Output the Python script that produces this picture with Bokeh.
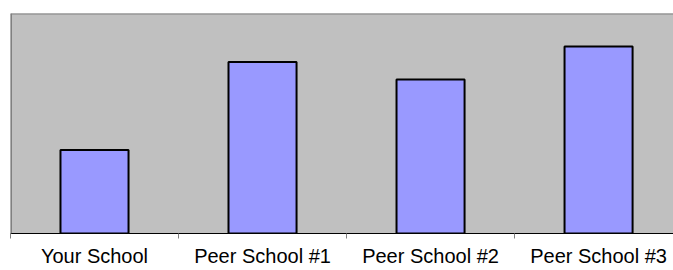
from bokeh.plotting import figure
from bokeh.models import FixedTicker, Range1d, ColumnDataSource, Span
from bokeh.embed import file_html
from bokeh.resources import INLINE

categories = ["Your School", "Peer School #1", "Peer School #2", "Peer School #3"]
values = [38, 78, 70, 85]

centers = [i + 0.5 for i in range(len(categories))]
boundaries = [float(i) for i in range(len(categories))]

src = ColumnDataSource(dict(x=centers, top=values, cat=categories))

p = figure(width=673, height=270, output_backend="svg", toolbar_location=None,
           x_range=Range1d(0, 3.946), y_range=Range1d(0, 100),
           y_axis_location=None, min_border_left=10, min_border_right=0,
           min_border_top=13, min_border_bottom=37)

p.background_fill_color = "#C0C0C0"
p.border_fill_color = "white"
p.outline_line_color = None
p.xgrid.visible = False
p.ygrid.visible = False

p.add_layout(Span(location=0, dimension="height", line_color="#808080", line_width=3))
p.add_layout(Span(location=100, dimension="width", line_color="#808080", line_width=2))

p.vbar(x="x", top="top", bottom=0, width=0.405, source=src,
       fill_color="#9999FF", line_color="black", line_width=2)

ax = p.xaxis[0]
ax.ticker = FixedTicker(ticks=centers, minor_ticks=boundaries)
ax.major_label_overrides = {c: lab for c, lab in zip(centers, categories)}
ax.major_tick_out = 0
ax.major_tick_in = 0
ax.minor_tick_out = 5
ax.minor_tick_in = 0
ax.minor_tick_line_color = "#808080"
ax.axis_line_color = "black"
ax.axis_line_width = 1
ax.major_label_standoff = 6
ax.major_label_text_font = "Liberation Sans"
ax.major_label_text_font_size = "20px"
ax.major_label_text_color = "black"

open("out.html", "w").write(file_html(p, INLINE))
